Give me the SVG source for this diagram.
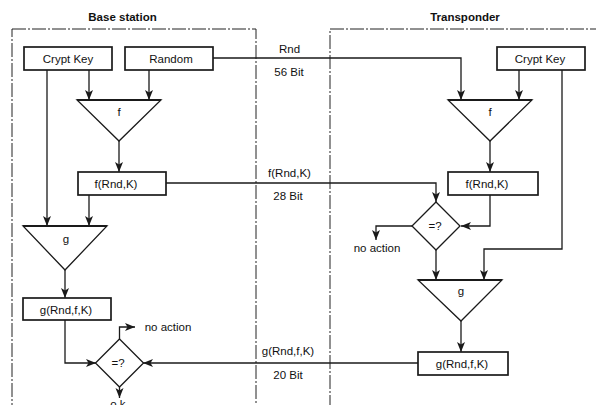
<svg xmlns="http://www.w3.org/2000/svg" width="596" height="405" viewBox="0 0 596 405">
<style>
text{font-family:"Liberation Sans",Arial,sans-serif;font-size:11.5px;fill:#111;text-anchor:middle}
.h{font-weight:bold}
.frame{fill:none;stroke:#222;stroke-width:1;stroke-dasharray:14 2 2 2}
.box{fill:#fff;stroke:#1a1a1a;stroke-width:1.7}
.tri{fill:#fff;stroke:#1a1a1a;stroke-width:1.3;stroke-linejoin:miter}
.top{stroke:#1a1a1a;stroke-width:2.2}
.c{fill:none;stroke:#1a1a1a;stroke-width:1.3}
.a{marker-end:url(#ah)}
</style>
<defs>
<marker id="ah" markerUnits="userSpaceOnUse" markerWidth="10" markerHeight="10" viewBox="0 0 10 10" refX="10" refY="5" orient="auto">
<path d="M0,1 L10,5 L0,9 L2.5,5 z" fill="#1a1a1a"/>
</marker>
</defs>
<g id="frames">
<rect class="frame" x="12" y="29" width="244" height="400"/>
<rect class="frame" x="330" y="29" width="300" height="400"/>
<text class="h" x="122.5" y="21">Base station</text>
<text class="h" x="465" y="21">Transponder</text>
</g>
<g id="connectors">
<path class="c a" d="M213,58 H461 V100" stroke="#333"/>
<path class="c a" d="M89,70 V100"/>
<path class="c a" d="M149,70 V100"/>
<path class="c a" d="M519,70 V100"/>
<path class="c a" d="M119,141 V172"/>
<path class="c a" d="M490,141 V172"/>
<path class="c a" d="M47,70 V226"/>
<path class="c a" d="M89,195 V226"/>
<path class="c a" d="M166,183 H436 V202"/>
<path class="c a" d="M490,195 V226 H461"/>
<path class="c a" d="M412,226 H376 V240"/>
<path class="c a" d="M436,249 V280"/>
<path class="c a" d="M562,70 V249 H484 V280"/>
<path class="c a" d="M65,270 V298"/>
<path class="c a" d="M461,321 V352"/>
<path class="c a" d="M65,320 V363 H96"/>
<path class="c a" d="M418,363 H143"/>
<path class="c a" d="M119.5,339 V327 H135"/>
<path class="c a" d="M119.5,387 V398"/>
<text x="289.5" y="53">Rnd</text>
<text x="289" y="76">56 Bit</text>
<text x="289.5" y="177">f(Rnd,K)</text>
<text x="288" y="200">28 Bit</text>
<text x="288" y="355">g(Rnd,f,K)</text>
<text x="288" y="379">20 Bit</text>
</g>
<g id="bs-cryptkey"><rect class="box" x="24" y="47" width="88" height="23"/><text x="68" y="63">Crypt Key</text></g>
<g id="bs-random"><rect class="box" x="125" y="47" width="88" height="23"/><text x="171" y="63">Random</text></g>
<g id="bs-f"><path class="tri" d="M77,100 H161 L119,141 Z"/><path class="top" d="M77,100 H161"/><text x="119" y="116">f</text></g>
<g id="bs-frk"><rect class="box" x="78" y="172" width="88" height="23"/><text x="116" y="188">f(Rnd,K)</text></g>
<g id="bs-g"><path class="tri" d="M23,226 H107 L65,270 Z"/><path class="top" d="M23,226 H107"/><text x="66" y="243">g</text></g>
<g id="bs-grfk"><rect class="box" x="23" y="298" width="88" height="22"/><text x="66" y="314">g(Rnd,f,K)</text></g>
<g id="bs-cmp"><path class="tri" d="M119.5,339 L143.5,363 L119.5,387 L95.5,363 Z"/><text x="118" y="367">=?</text></g>
<g id="bs-noaction"><text x="168" y="331">no action</text></g>
<g id="bs-ok"><text x="119.5" y="408">o.k.</text></g>
<g id="tp-cryptkey"><rect class="box" x="497" y="47" width="88" height="23"/><text x="540" y="63">Crypt Key</text></g>
<g id="tp-f"><path class="tri" d="M448,100 H532 L490,141 Z"/><path class="top" d="M448,100 H532"/><text x="490" y="116">f</text></g>
<g id="tp-frk"><rect class="box" x="448" y="172" width="90" height="23"/><text x="487" y="188">f(Rnd,K)</text></g>
<g id="tp-cmp"><path class="tri" d="M436,202 L460,226 L436,250 L412,226 Z"/><text x="435" y="230">=?</text></g>
<g id="tp-noaction"><text x="377" y="252">no action</text></g>
<g id="tp-g"><path class="tri" d="M418,280 H502 L461,321 Z"/><path class="top" d="M418,280 H502"/><text x="461" y="295">g</text></g>
<g id="tp-grfk"><rect class="box" x="418" y="352" width="90" height="23"/><text x="462" y="368">g(Rnd,f,K)</text></g>
</svg>
